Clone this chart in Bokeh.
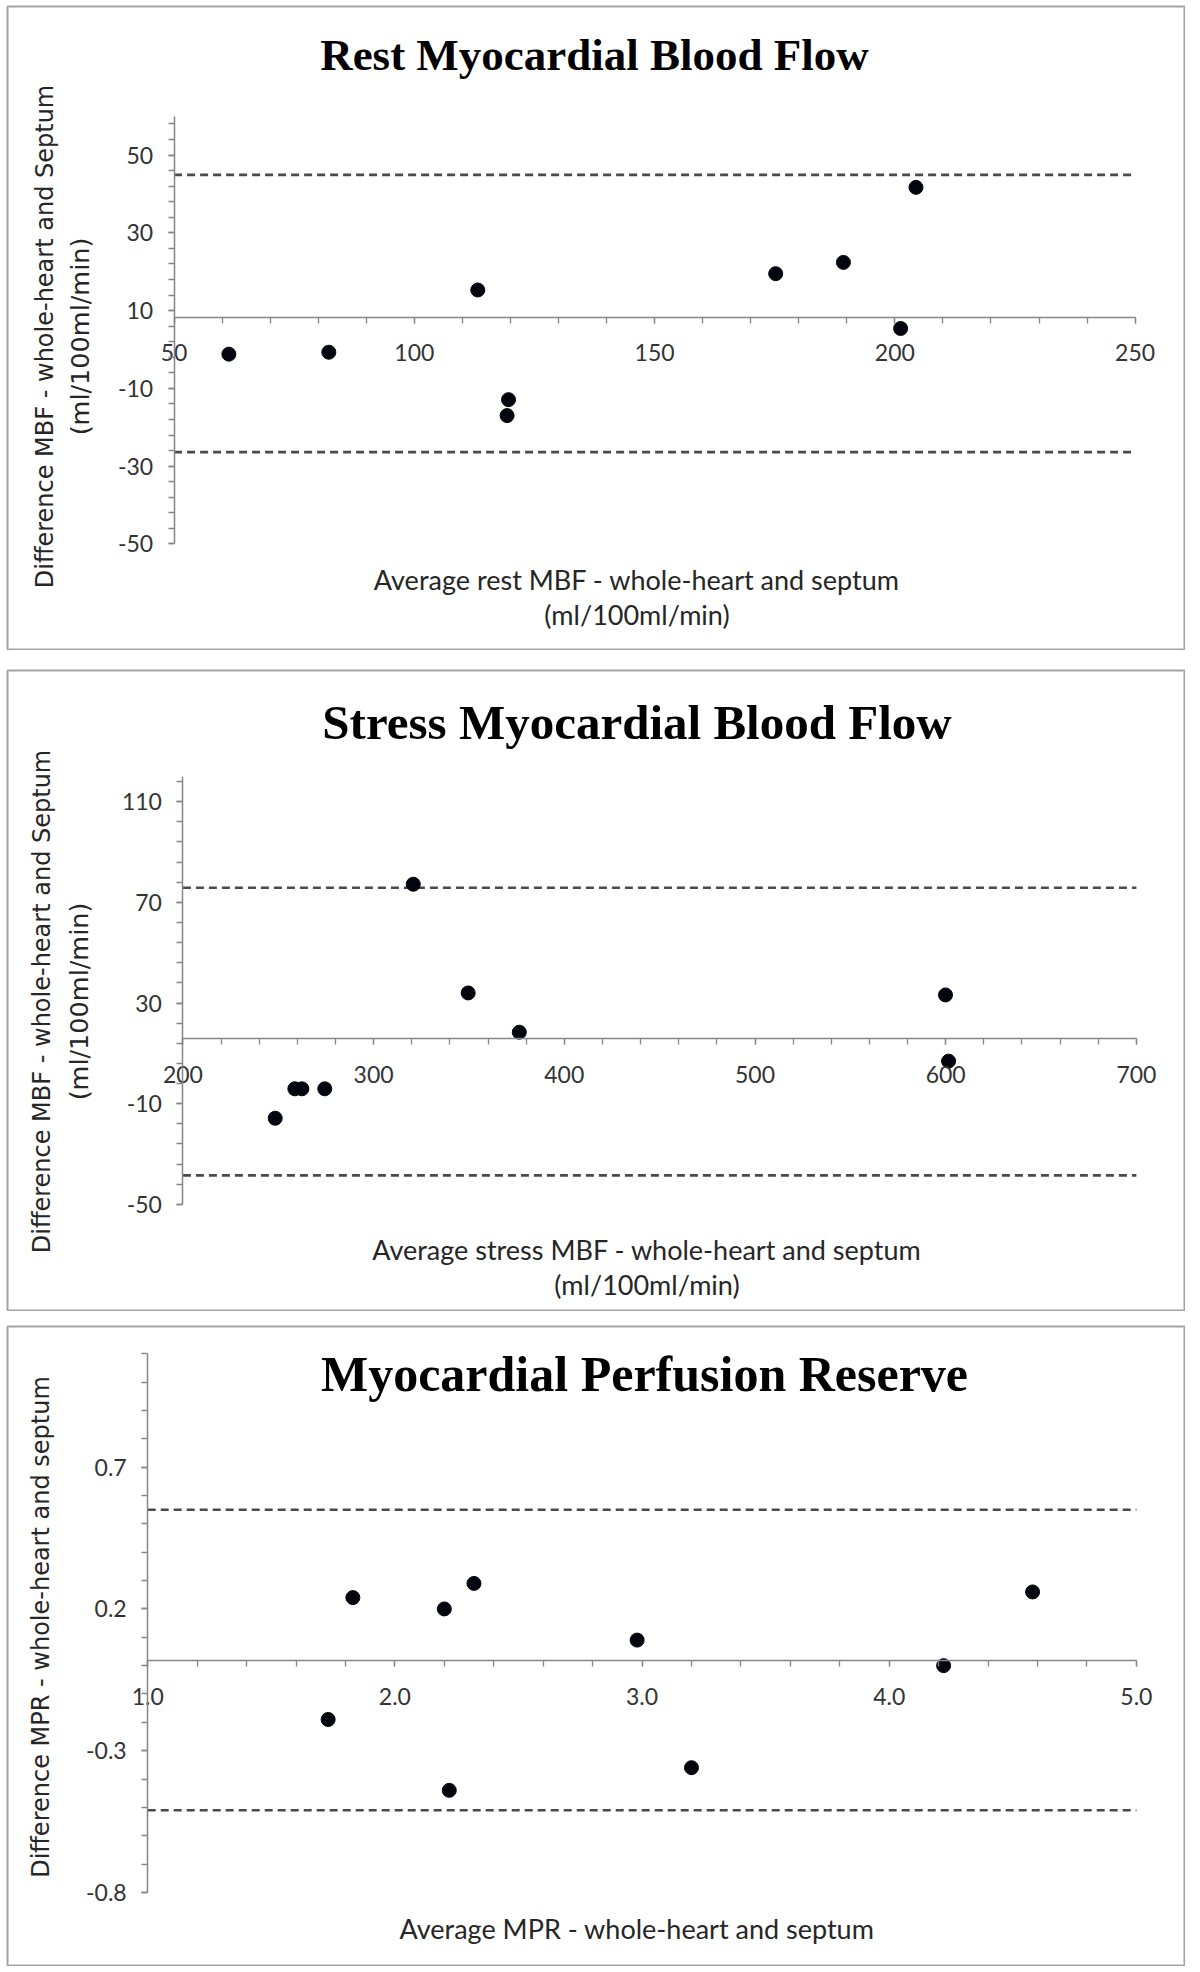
import numpy as np
from bokeh.plotting import figure
from bokeh.models import Label, FixedTicker, Range1d, NumeralTickFormatter
from bokeh.layouts import column
from bokeh.embed import file_html
from bokeh.resources import INLINE

# ---------------- data ----------------
# Rest myocardial blood flow (Bland-Altman)
rest_avg = [61.4, 82.2, 113.2, 119.6, 119.3, 175.2, 189.3, 201.2, 204.4]
rest_diff = [-1.2, -0.7, 15.3, -12.9, -17.0, 19.5, 22.4, 5.4, 41.7]
rest_bias = 8.3
rest_loa = [44.9, -26.4]
rest_xticks = [50, 100, 150, 200, 250]
rest_yticks = [-50, -30, -10, 10, 30, 50]
rest_ybounds = [-50, 60]

# Stress myocardial blood flow
stress_avg = [248.4, 258.7, 262.4, 274.4, 320.8, 349.6, 376.4, 599.9, 601.5]
stress_diff = [-15.8, -4.1, -4.1, -4.1, 77.2, 34.0, 18.4, 33.2, 6.9]
stress_bias = 15.7
stress_loa = [75.8, -38.5]
stress_xticks = [200, 300, 400, 500, 600, 700]
stress_yticks = [-50, -10, 30, 70, 110]
stress_ybounds = [-50, 120]

# Myocardial perfusion reserve
mpr_avg = [1.73, 1.83, 2.20, 2.22, 2.32, 2.98, 3.20, 4.22, 4.58]
mpr_diff = [-0.19, 0.24, 0.20, -0.44, 0.29, 0.09, -0.36, 0.00, 0.26]
mpr_bias = 0.017
mpr_loa = [0.55, -0.51]
mpr_xticks = [1.0, 2.0, 3.0, 4.0, 5.0]
mpr_yticks = [-0.8, -0.3, 0.2, 0.7]
mpr_ybounds = [-0.8, 1.1]

AXIS_COLOR = "#868686"
TICK_FONT = "Lato"
XT_SIZE = 27


def make_panel(avg, diff, bias, loa, xticks, yticks, ybounds, xminor, yminor,
               fmt, W, H, xpix, ypix, ypix_vals, title, title_size, title_pos,
               xtitles, ytitles, margin):
    xb = (xticks[0], xticks[-1])
    yb = tuple(ybounds)
    B = 1
    # x: value xb[0] at pixel xpix[0], xb[1] at xpix[1]
    kx = (xb[1] - xb[0]) / (xpix[1] - xpix[0])
    x0 = xb[0] + (B - xpix[0]) * kx
    x1 = xb[0] + (W - B - xpix[0]) * kx
    # y: value ypix_vals[0] at ypix[0] (upper), ypix_vals[1] at ypix[1] (lower)
    ky = (ypix_vals[0] - ypix_vals[1]) / (ypix[1] - ypix[0])
    ytop = ypix_vals[0] + (ypix[0] - B) * ky
    ybot = ypix_vals[0] - (H - B - ypix[0]) * ky
    p = figure(width=W, height=H, x_range=Range1d(x0, x1), y_range=Range1d(ybot, ytop),
               output_backend="svg", toolbar_location=None, title=None,
               min_border_left=B, min_border_right=B,
               min_border_top=B, min_border_bottom=B)
    p.outline_line_color = "#a4a4a4"
    p.outline_line_width = 2
    p.grid.visible = False
    p.background_fill_color = "white"
    p.border_fill_color = "white"
    p.margin = margin

    def dx(cx):
        return x0 + (cx - B) * kx

    def dy(cy):
        return ytop - (cy - B) * ky

    xa = p.xaxis[0]
    xa.fixed_location = bias
    xa.bounds = xb
    xa.ticker = FixedTicker(ticks=xticks, minor_ticks=xminor)
    ya = p.yaxis[0]
    ya.fixed_location = xb[0]
    ya.bounds = yb
    ya.ticker = FixedTicker(ticks=yticks, minor_ticks=yminor)
    xa.formatter = NumeralTickFormatter(format=fmt)
    ya.formatter = NumeralTickFormatter(format=fmt)
    for ax in (xa, ya):
        ax.axis_line_color = AXIS_COLOR
        ax.axis_line_width = 1.5
        ax.major_tick_line_color = AXIS_COLOR
        ax.minor_tick_line_color = AXIS_COLOR
        ax.major_tick_line_width = 1.3
        ax.minor_tick_line_width = 1.3
        ax.major_tick_in = 0
        ax.minor_tick_in = 0
        ax.major_tick_out = 6
        ax.minor_tick_out = 6
        ax.major_label_text_font = TICK_FONT
        ax.major_label_text_font_size = "23px"
        ax.major_label_text_color = "#333333"
    xa.major_label_standoff = 21
    ya.major_label_standoff = 15

    # limits of agreement (dashed), spanning the horizontal axis extent
    p.segment(x0=[xb[0]] * len(loa), x1=[xb[1]] * len(loa), y0=loa, y1=loa,
              line_color="#4a4a4a", line_width=2.6, line_dash="8 5")

    p.scatter(avg, diff, size=14, color="#05050f", marker="circle")

    p.add_layout(Label(x=dx(title_pos[0]), y=dy(title_pos[1]), text=title,
                       text_align="center", text_baseline="middle",
                       text_font="Liberation Serif", text_font_style="bold",
                       text_font_size=f"{title_size}px", text_color="#000000"))
    for (cx, cy, txt) in xtitles:
        p.add_layout(Label(x=dx(cx), y=dy(cy), text=txt, text_align="center",
                           text_baseline="middle", text_font="Lato",
                           text_font_size=f"{XT_SIZE}px", text_color="#262626"))
    for (cx, cy, txt, sz) in ytitles:
        p.add_layout(Label(x=dx(cx), y=dy(cy), text=txt, text_align="center",
                           text_baseline="middle", angle=np.pi / 2,
                           text_font="DejaVu Sans",
                           text_font_size=f"{sz}px", text_color="#262626"))
    return p


W = 1179
p1 = make_panel(rest_avg, rest_diff, rest_bias, rest_loa, rest_xticks, rest_yticks,
                rest_ybounds, list(np.arange(50, 251, 10)), list(np.arange(-50, 61, 4)),
                "0", W, 645, (167.6, 1128.6), (110.7, 538.4), (60, -50),
                "Rest Myocardial Blood Flow", 45, (588, 49),
                [(630.5, 573.6, "Average rest MBF - whole-heart and septum"),
                 (630.5, 609, "(ml/100ml/min)")],
                [(38, 331, "Difference MBF - whole-heart and Septum", 24),
                 (73, 331, "(ml/100ml/min)", 25.5)],
                (5, 0, 0, 6))

p2 = make_panel(stress_avg, stress_diff, stress_bias, stress_loa, stress_xticks,
                stress_yticks, stress_ybounds, list(np.arange(200, 701, 20)),
                list(np.arange(-50, 121, 8)), "0", W, 642,
                (176.4, 1129.9), (132.2, 534.8), (110, -50),
                "Stress Myocardial Blood Flow", 49, (630.5, 53),
                [(640.5, 580, "Average stress MBF - whole-heart and septum"),
                 (640.5, 615, "(ml/100ml/min)")],
                [(35.5, 332, "Difference MBF - whole-heart and Septum", 24),
                 (72, 332, "(ml/100ml/min)", 25.5)],
                (19, 0, 0, 6))

p3 = make_panel(mpr_avg, mpr_diff, mpr_bias, mpr_loa, mpr_xticks, mpr_yticks,
                mpr_ybounds, list(np.round(np.arange(1.0, 5.01, 0.2), 2)),
                list(np.round(np.arange(-0.8, 1.11, 0.1), 2)), "0.0", W, 641,
                (141.2, 1129.9), (141.7, 566.9), (0.7, -0.8),
                "Myocardial Perfusion Reserve", 50, (638, 48.6),
                [(630.5, 603.4, "Average MPR - whole-heart and septum")],
                [(34, 301.5, "Difference MPR - whole-heart and septum", 24)],
                (14, 0, 0, 6))

layout = column(p1, p2, p3, spacing=0)
open("out.html", "w").write(file_html(layout, INLINE))
